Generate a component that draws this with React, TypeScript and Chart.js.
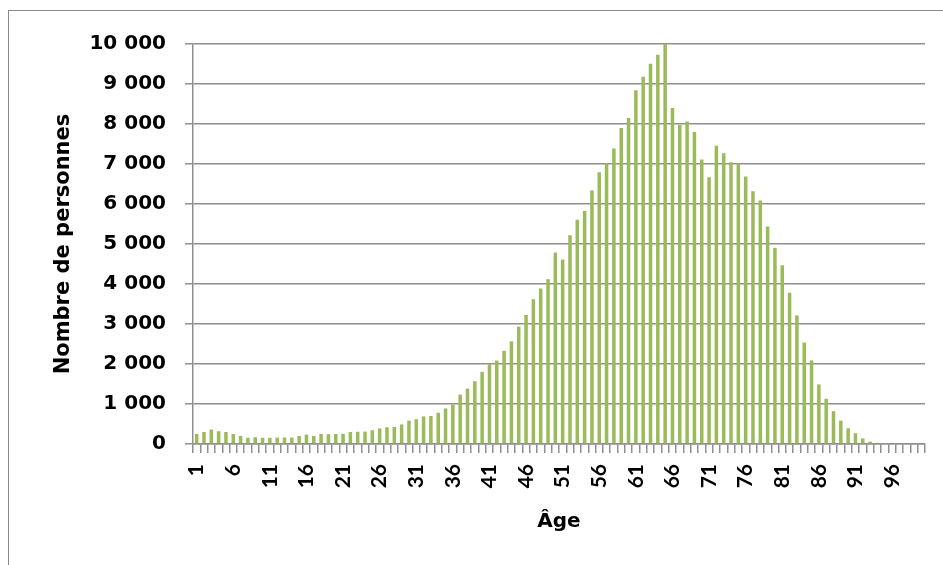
import { useEffect, useRef } from 'react';
import { Chart, registerables } from 'chart.js';

Chart.register(...registerables);

// Categories: ages 1 to 100
const ages: string[] = Array.from({ length: 100 }, (_, i) => String(i + 1));

// Age labels shown under the axis
const shownAgeLabels: string[] = ['1', '6', '11', '16', '21', '26', '31', '36', '41', '46', '51', '56', '61', '66', '71', '76', '81', '86', '91', '96'];

// Number of persons per age
const personnes: number[] = [
  250, 300, 360, 320, 300, 250, 200, 155, 170, 155,
  155, 160, 160, 160, 200, 235, 200, 250, 245, 250,
  255, 300, 305, 310, 345, 390, 420, 425, 490, 585,
  620, 690, 700, 780, 890, 985, 1235, 1385, 1570, 1805,
  1990, 2085, 2330, 2565, 2935, 3225, 3620, 3890, 4120, 4790,
  4615, 5220, 5605, 5825, 6340, 6795, 7015, 7390, 7900, 8150,
  8845, 9180, 9505, 9730, 10000, 8400, 7975, 8065, 7800, 7115,
  6670, 7455, 7270, 7045, 7015, 6685, 6320, 6090, 5440, 4905,
  4470, 3780, 3215, 2535, 2090, 1490, 1130, 820, 585, 395,
  270, 140, 60, 30, 15, 0, 0, 0, 0, 0,
];

const yMax = 10000;
const yStep = 1000;

const GRID = '#8f8f8f';
const BAR = '#9bbb59';

function formatThousands(v: number): string {
  return String(v).replace(/\B(?=(\d{3})+(?!\d))/g, '\u00a0');
}

export default function App() {
  const canvasRef = useRef<HTMLCanvasElement | null>(null);

  useEffect(() => {
    if (!canvasRef.current) return;
    const chart = new Chart(canvasRef.current, {
      type: 'bar',
      data: {
        labels: ages,
        datasets: [
          {
            data: personnes,
            backgroundColor: BAR,
            borderWidth: 0,
            barPercentage: 0.48,
            categoryPercentage: 1,
          },
        ],
      },
      options: {
        animation: false,
        responsive: false,
        maintainAspectRatio: false,
        layout: { padding: { left: 0, top: 44, right: 18, bottom: 0 } },
        plugins: { legend: { display: false }, tooltip: { enabled: false } },
        scales: {
          x: {
            offset: true,
            grid: {
              display: true,
              drawOnChartArea: false,
              drawTicks: true,
              tickLength: 9,
              color: GRID,
              lineWidth: 1.5,
              offset: true,
            },
            border: { display: true, color: GRID, width: 1.5 },
            ticks: {
              autoSkip: false,
              minRotation: 90,
              maxRotation: 90,
              padding: 11,
              color: '#000',
              font: { family: 'Lato', weight: 'bold', size: 21 },
              callback: (_v: any, i: number) => (shownAgeLabels.includes(ages[i]) ? ages[i] : ''),
            },
            title: {
              display: true,
              text: 'Âge',
              color: '#000',
              font: { family: 'DejaVu Sans', weight: 'bold', size: 20 },
              padding: { top: 0, bottom: 31 },
            },
            afterFit: (s: any) => {
              s.height = 121;
              s.paddingLeft = 0;
              s.paddingRight = 0;
            },
          },
          y: {
            min: 0,
            max: yMax,
            ticks: {
              stepSize: yStep,
              padding: 19,
              color: '#000',
              font: { family: 'DejaVu Sans', weight: 'bold', size: 20 },
              callback: (v: any) => formatThousands(Number(v)),
            },
            grid: { color: GRID, lineWidth: 1.5, tickLength: 8, drawTicks: true },
            border: { display: true, color: GRID, width: 1.5 },
            title: {
              display: true,
              text: 'Nombre de personnes',
              color: '#000',
              font: { family: 'DejaVu Sans', weight: 'bold', size: 21 },
              padding: { top: 51, bottom: 0 },
            },
            afterFit: (s: any) => {
              s.width = 193;
            },
          },
        },
      },
    });
    return () => chart.destroy();
  }, []);

  return (
    <div style={{ position: 'fixed', left: 0, top: 0, width: 943, height: 565, overflow: 'hidden', background: '#fff' }}>
      <div
        style={{
          position: 'absolute',
          left: 8,
          top: 10,
          width: 1000,
          height: 700,
          border: '1px solid #8a8a8a',
          boxSizing: 'border-box',
        }}
      />
      <canvas
        ref={canvasRef}
        width={943}
        height={565}
        style={{ position: 'absolute', left: 0, top: 0, width: 943, height: 565 }}
      />
    </div>
  );
}
